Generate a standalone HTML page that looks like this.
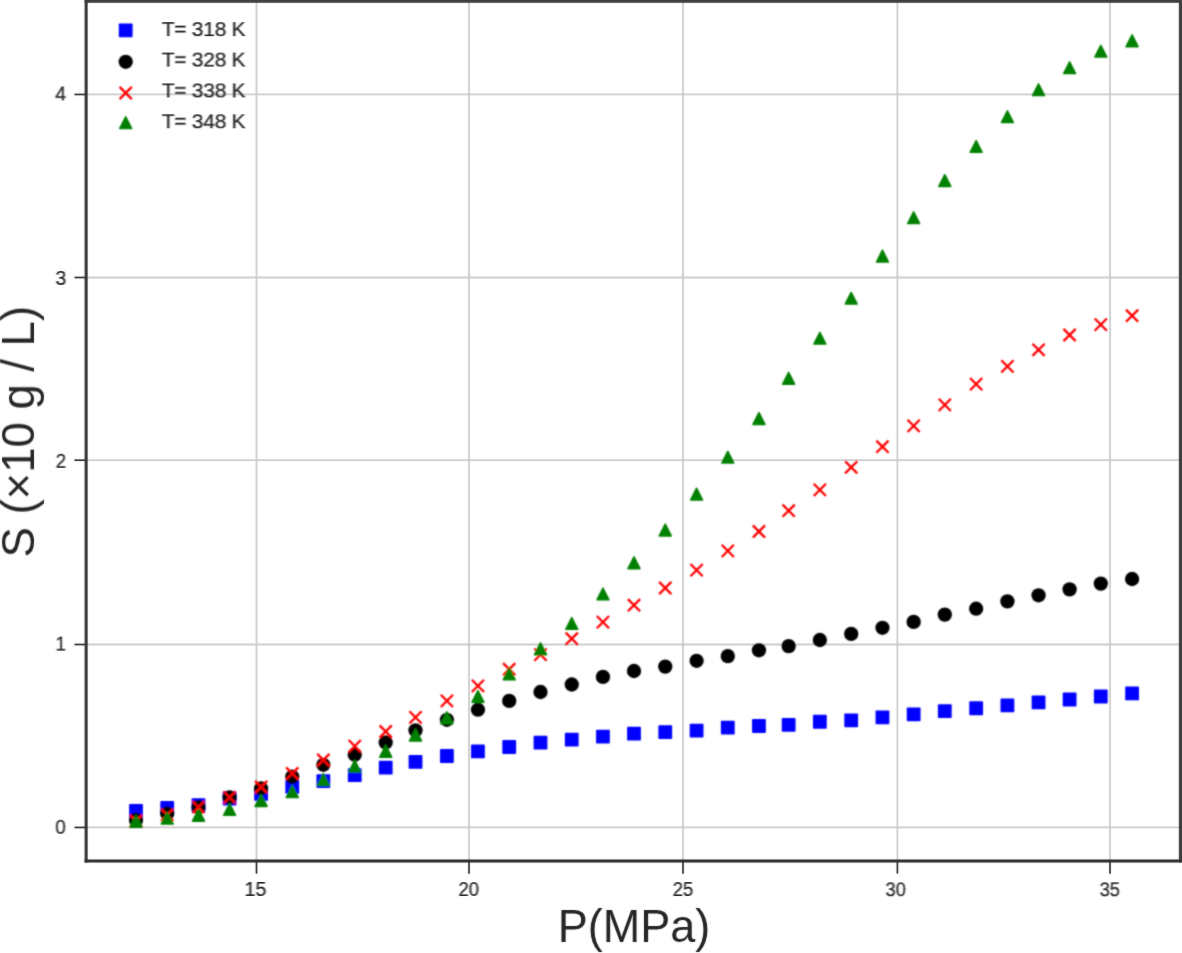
<!DOCTYPE html>
<html><head><meta charset="utf-8"><style>
html,body{margin:0;padding:0;background:#fff;width:1182px;height:953px;overflow:hidden}
svg{display:block}
</style></head><body>
<svg width="1182" height="953" viewBox="0 0 1182 953">
<defs><filter id="bg" x="-20" y="-20" width="1222" height="993" filterUnits="userSpaceOnUse"><feConvolveMatrix order="5" kernelMatrix="0.00000 0.00000 0.00004 0.00000 0.00000 0.00000 0.00524 0.06191 0.00524 0.00000 0.00004 0.06191 0.73124 0.06191 0.00004 0.00000 0.00524 0.06191 0.00524 0.00000 0.00000 0.00000 0.00004 0.00000 0.00000" edgeMode="none"/></filter><filter id="bm" x="-20" y="-20" width="1222" height="993" filterUnits="userSpaceOnUse"><feConvolveMatrix order="5" kernelMatrix="0.00009 0.00198 0.00548 0.00198 0.00009 0.00198 0.04220 0.11707 0.04220 0.00198 0.00548 0.11707 0.32480 0.11707 0.00548 0.00198 0.04220 0.11707 0.04220 0.00198 0.00009 0.00198 0.00548 0.00198 0.00009" edgeMode="none"/></filter><filter id="bs" x="-20" y="-20" width="1222" height="993" filterUnits="userSpaceOnUse"><feConvolveMatrix order="5" kernelMatrix="0.00000 0.00000 0.00000 0.00000 0.00000 0.00036 0.00373 0.00815 0.00373 0.00036 0.02121 0.22105 0.48282 0.22105 0.02121 0.00036 0.00373 0.00815 0.00373 0.00036 0.00000 0.00000 0.00000 0.00000 0.00000" edgeMode="none"/></filter><filter id="bt" x="-20" y="-20" width="1222" height="993" filterUnits="userSpaceOnUse"><feConvolveMatrix order="5" kernelMatrix="0.00000 0.00003 0.00021 0.00003 0.00000 0.00003 0.01133 0.08373 0.01133 0.00003 0.00021 0.08373 0.61869 0.08373 0.00021 0.00003 0.01133 0.08373 0.01133 0.00003 0.00000 0.00003 0.00021 0.00003 0.00000" edgeMode="none"/></filter></defs>
<defs><filter id="s0" x="237.2" y="873.7" width="36.9" height="30.6" filterUnits="userSpaceOnUse"><feConvolveMatrix order="5" kernelMatrix="0.00000 0.00000 0.00000 0.00000 0.00000 0.00075 0.00777 0.01697 0.00777 0.00075 0.02102 0.21898 0.47830 0.21898 0.02102 0.00017 0.00176 0.00384 0.00176 0.00017 0.00000 0.00000 0.00000 0.00000 0.00000" edgeMode="none"/></filter><filter id="s1" x="450.9" y="873.6" width="36.0" height="30.9" filterUnits="userSpaceOnUse"><feConvolveMatrix order="5" kernelMatrix="0.00000 0.00000 0.00000 0.00000 0.00000 0.00016 0.00167 0.00365 0.00167 0.00016 0.02099 0.21869 0.47767 0.21869 0.02099 0.00078 0.00815 0.01780 0.00815 0.00078 0.00000 0.00000 0.00000 0.00000 0.00000" edgeMode="none"/></filter><filter id="s2" x="665.0" y="873.6" width="35.9" height="30.9" filterUnits="userSpaceOnUse"><feConvolveMatrix order="5" kernelMatrix="0.00000 0.00000 0.00000 0.00000 0.00000 0.00011 0.00117 0.00256 0.00117 0.00011 0.02073 0.21600 0.47179 0.21600 0.02073 0.00109 0.01134 0.02477 0.01134 0.00109 0.00000 0.00000 0.00000 0.00000 0.00000" edgeMode="none"/></filter><filter id="s3" x="877.8" y="873.6" width="35.8" height="31.2" filterUnits="userSpaceOnUse"><feConvolveMatrix order="5" kernelMatrix="0.00000 0.00000 0.00000 0.00000 0.00000 0.00001 0.00011 0.00025 0.00011 0.00001 0.01557 0.16228 0.35445 0.16228 0.01557 0.00634 0.06611 0.14440 0.06611 0.00634 0.00000 0.00001 0.00002 0.00001 0.00000" edgeMode="none"/></filter><filter id="s4" x="1091.9" y="873.6" width="35.8" height="31.2" filterUnits="userSpaceOnUse"><feConvolveMatrix order="5" kernelMatrix="0.00000 0.00000 0.00000 0.00000 0.00000 0.00001 0.00009 0.00019 0.00009 0.00001 0.01462 0.15231 0.33268 0.15231 0.01462 0.00730 0.07610 0.16622 0.07610 0.00730 0.00000 0.00001 0.00002 0.00001 0.00000" edgeMode="none"/></filter><filter id="s5" x="47.2" y="811.1" width="26.4" height="30.8" filterUnits="userSpaceOnUse"><feConvolveMatrix order="5" kernelMatrix="0.00000 0.00000 0.00000 0.00000 0.00000 0.00373 0.03886 0.08489 0.03886 0.00373 0.01817 0.18938 0.41365 0.18938 0.01817 0.00003 0.00026 0.00057 0.00026 0.00003 0.00000 0.00000 0.00000 0.00000 0.00000" edgeMode="none"/></filter><filter id="s6" x="48.1" y="628.2" width="25.5" height="31.2" filterUnits="userSpaceOnUse"><feConvolveMatrix order="5" kernelMatrix="0.00000 0.00002 0.00004 0.00002 0.00000 0.00858 0.08944 0.19536 0.08944 0.00858 0.01334 0.13899 0.30359 0.13899 0.01334 0.00001 0.00006 0.00013 0.00006 0.00001 0.00000 0.00000 0.00000 0.00000 0.00000" edgeMode="none"/></filter><filter id="s7" x="48.0" y="445.2" width="25.7" height="31.0" filterUnits="userSpaceOnUse"><feConvolveMatrix order="5" kernelMatrix="0.00000 0.00000 0.00000 0.00000 0.00000 0.00356 0.03705 0.08093 0.03705 0.00356 0.01835 0.19118 0.41756 0.19118 0.01835 0.00003 0.00028 0.00061 0.00028 0.00003 0.00000 0.00000 0.00000 0.00000 0.00000" edgeMode="none"/></filter><filter id="s8" x="47.8" y="262.4" width="26.2" height="31.1" filterUnits="userSpaceOnUse"><feConvolveMatrix order="5" kernelMatrix="0.00000 0.00000 0.00000 0.00000 0.00000 0.00083 0.00861 0.01881 0.00861 0.00083 0.02095 0.21832 0.47686 0.21832 0.02095 0.00015 0.00158 0.00344 0.00158 0.00015 0.00000 0.00000 0.00000 0.00000 0.00000" edgeMode="none"/></filter><filter id="s9" x="47.1" y="78.2" width="27.3" height="30.7" filterUnits="userSpaceOnUse"><feConvolveMatrix order="5" kernelMatrix="0.00000 0.00000 0.00000 0.00000 0.00000 0.00000 0.00004 0.00009 0.00004 0.00000 0.01190 0.12399 0.27082 0.12399 0.01190 0.01002 0.10446 0.22815 0.10446 0.01002 0.00000 0.00003 0.00005 0.00003 0.00000" edgeMode="none"/></filter><filter id="s10" x="150.0" y="12.4" width="110.0" height="35.0" filterUnits="userSpaceOnUse"><feConvolveMatrix order="5" kernelMatrix="0.00000 0.00000 0.00000 0.00000 0.00000 0.00003 0.00032 0.00069 0.00032 0.00003 0.01865 0.19432 0.42444 0.19432 0.01865 0.00325 0.03387 0.07398 0.03387 0.00325 0.00000 0.00000 0.00000 0.00000 0.00000" edgeMode="none"/></filter><filter id="s11" x="150.0" y="41.9" width="110.0" height="35.0" filterUnits="userSpaceOnUse"><feConvolveMatrix order="5" kernelMatrix="0.00000 0.00002 0.00004 0.00002 0.00000 0.00863 0.08989 0.19633 0.08989 0.00863 0.01330 0.13855 0.30261 0.13855 0.01330 0.00001 0.00006 0.00013 0.00006 0.00001 0.00000 0.00000 0.00000 0.00000 0.00000" edgeMode="none"/></filter><filter id="s12" x="150.0" y="73.1" width="110.0" height="35.0" filterUnits="userSpaceOnUse"><feConvolveMatrix order="5" kernelMatrix="0.00000 0.00000 0.00000 0.00000 0.00000 0.00000 0.00005 0.00010 0.00005 0.00000 0.01230 0.12814 0.27988 0.12814 0.01230 0.00963 0.10030 0.21909 0.10030 0.00963 0.00000 0.00002 0.00005 0.00002 0.00000" edgeMode="none"/></filter><filter id="s13" x="150.0" y="104.4" width="110.0" height="35.0" filterUnits="userSpaceOnUse"><feConvolveMatrix order="5" kernelMatrix="0.00000 0.00000 0.00000 0.00000 0.00000 0.00001 0.00011 0.00024 0.00011 0.00001 0.01543 0.16074 0.35108 0.16074 0.01543 0.00649 0.06766 0.14778 0.06766 0.00649 0.00000 0.00001 0.00002 0.00001 0.00000" edgeMode="none"/></filter></defs>
<rect width="1182" height="953" fill="#fff"/>
<g filter="url(#bg)">
<g stroke="#cccccc" stroke-width="1.8" fill="none">
<line x1="256.5" y1="1.3" x2="256.5" y2="860.95"/>
<line x1="469.0" y1="1.3" x2="469.0" y2="860.95"/>
<line x1="683.0" y1="1.3" x2="683.0" y2="860.95"/>
<line x1="897.4" y1="1.3" x2="897.4" y2="860.95"/>
<line x1="1110.0" y1="1.3" x2="1110.0" y2="860.95"/>
<line x1="86.15" y1="827.45" x2="1180.5" y2="827.45"/>
<line x1="86.15" y1="644.5" x2="1180.5" y2="644.5"/>
<line x1="86.15" y1="460.2" x2="1180.5" y2="460.2"/>
<line x1="86.15" y1="277.5" x2="1180.5" y2="277.5"/>
<line x1="86.15" y1="94.45" x2="1180.5" y2="94.45"/>
</g>
</g><g filter="url(#bm)">
<g fill="#0000ff"><rect x="129.10" y="803.90" width="13.8" height="13.8" rx="0.9"/><rect x="160.30" y="801.00" width="13.8" height="13.8" rx="0.9"/><rect x="191.60" y="798.20" width="13.8" height="13.8" rx="0.9"/><rect x="222.70" y="791.60" width="13.8" height="13.8" rx="0.9"/><rect x="254.20" y="787.00" width="13.8" height="13.8" rx="0.9"/><rect x="285.35" y="780.00" width="13.8" height="13.8" rx="0.9"/><rect x="316.45" y="774.20" width="13.8" height="13.8" rx="0.9"/><rect x="347.85" y="768.30" width="13.8" height="13.8" rx="0.9"/><rect x="378.80" y="760.80" width="13.8" height="13.8" rx="0.9"/><rect x="408.60" y="755.00" width="13.8" height="13.8" rx="0.9"/><rect x="440.00" y="749.10" width="13.8" height="13.8" rx="0.9"/><rect x="471.05" y="744.55" width="13.8" height="13.8" rx="0.9"/><rect x="502.30" y="740.10" width="13.8" height="13.8" rx="0.9"/><rect x="533.60" y="735.80" width="13.8" height="13.8" rx="0.9"/><rect x="564.85" y="732.70" width="13.8" height="13.8" rx="0.9"/><rect x="596.05" y="729.70" width="13.8" height="13.8" rx="0.9"/><rect x="627.10" y="726.75" width="13.8" height="13.8" rx="0.9"/><rect x="658.35" y="725.20" width="13.8" height="13.8" rx="0.9"/><rect x="689.70" y="723.70" width="13.8" height="13.8" rx="0.9"/><rect x="720.90" y="720.70" width="13.8" height="13.8" rx="0.9"/><rect x="752.05" y="719.10" width="13.8" height="13.8" rx="0.9"/><rect x="781.75" y="717.90" width="13.8" height="13.8" rx="0.9"/><rect x="812.95" y="714.85" width="13.8" height="13.8" rx="0.9"/><rect x="844.30" y="713.45" width="13.8" height="13.8" rx="0.9"/><rect x="875.55" y="710.40" width="13.8" height="13.8" rx="0.9"/><rect x="906.75" y="707.40" width="13.8" height="13.8" rx="0.9"/><rect x="937.90" y="704.30" width="13.8" height="13.8" rx="0.9"/><rect x="969.25" y="701.35" width="13.8" height="13.8" rx="0.9"/><rect x="1000.50" y="698.50" width="13.8" height="13.8" rx="0.9"/><rect x="1031.65" y="695.50" width="13.8" height="13.8" rx="0.9"/><rect x="1062.70" y="692.60" width="13.8" height="13.8" rx="0.9"/><rect x="1093.90" y="689.60" width="13.8" height="13.8" rx="0.9"/><rect x="1125.20" y="686.50" width="13.8" height="13.8" rx="0.9"/></g>
<g fill="#000000"><circle cx="136.00" cy="820.00" r="7.15"/><circle cx="167.20" cy="813.60" r="7.15"/><circle cx="198.50" cy="807.10" r="7.15"/><circle cx="229.60" cy="797.40" r="7.15"/><circle cx="261.10" cy="788.50" r="7.15"/><circle cx="292.25" cy="776.70" r="7.15"/><circle cx="323.35" cy="764.80" r="7.15"/><circle cx="354.75" cy="754.80" r="7.15"/><circle cx="385.70" cy="742.50" r="7.15"/><circle cx="415.50" cy="730.30" r="7.15"/><circle cx="446.90" cy="719.80" r="7.15"/><circle cx="477.95" cy="709.70" r="7.15"/><circle cx="509.20" cy="700.90" r="7.15"/><circle cx="540.50" cy="692.00" r="7.15"/><circle cx="571.75" cy="684.50" r="7.15"/><circle cx="602.95" cy="676.90" r="7.15"/><circle cx="634.00" cy="671.00" r="7.15"/><circle cx="665.25" cy="666.60" r="7.15"/><circle cx="696.60" cy="660.80" r="7.15"/><circle cx="727.80" cy="656.10" r="7.15"/><circle cx="758.95" cy="650.30" r="7.15"/><circle cx="788.65" cy="646.10" r="7.15"/><circle cx="819.85" cy="640.00" r="7.15"/><circle cx="851.20" cy="633.90" r="7.15"/><circle cx="882.45" cy="627.80" r="7.15"/><circle cx="913.65" cy="621.90" r="7.15"/><circle cx="944.80" cy="614.60" r="7.15"/><circle cx="976.15" cy="608.70" r="7.15"/><circle cx="1007.40" cy="601.40" r="7.15"/><circle cx="1038.55" cy="595.30" r="7.15"/><circle cx="1069.60" cy="589.40" r="7.15"/><circle cx="1100.80" cy="583.60" r="7.15"/><circle cx="1132.10" cy="579.00" r="7.15"/></g>
<g stroke="#ff0000" stroke-width="2.3" fill="none"><path d="M129.90 814.90L142.10 827.10M129.90 827.10L142.10 814.90"/><path d="M161.10 808.80L173.30 821.00M161.10 821.00L173.30 808.80"/><path d="M192.40 801.00L204.60 813.20M192.40 813.20L204.60 801.00"/><path d="M223.50 791.30L235.70 803.50M223.50 803.50L235.70 791.30"/><path d="M255.00 780.90L267.20 793.10M255.00 793.10L267.20 780.90"/><path d="M286.15 767.40L298.35 779.60M286.15 779.60L298.35 767.40"/><path d="M317.25 753.90L329.45 766.10M317.25 766.10L329.45 753.90"/><path d="M348.65 740.00L360.85 752.20M348.65 752.20L360.85 740.00"/><path d="M379.60 725.40L391.80 737.60M379.60 737.60L391.80 725.40"/><path d="M409.40 711.30L421.60 723.50M409.40 723.50L421.60 711.30"/><path d="M440.80 694.80L453.00 707.00M440.80 707.00L453.00 694.80"/><path d="M471.85 679.80L484.05 692.00M471.85 692.00L484.05 679.80"/><path d="M503.10 663.10L515.30 675.30M503.10 675.30L515.30 663.10"/><path d="M534.40 648.50L546.60 660.70M534.40 660.70L546.60 648.50"/><path d="M565.65 632.60L577.85 644.80M565.65 644.80L577.85 632.60"/><path d="M596.85 616.00L609.05 628.20M596.85 628.20L609.05 616.00"/><path d="M627.90 599.10L640.10 611.30M627.90 611.30L640.10 599.10"/><path d="M659.15 581.90L671.35 594.10M659.15 594.10L671.35 581.90"/><path d="M690.50 564.00L702.70 576.20M690.50 576.20L702.70 564.00"/><path d="M721.70 544.80L733.90 557.00M721.70 557.00L733.90 544.80"/><path d="M752.85 525.40L765.05 537.60M752.85 537.60L765.05 525.40"/><path d="M782.55 504.60L794.75 516.80M782.55 516.80L794.75 504.60"/><path d="M813.75 483.80L825.95 496.00M813.75 496.00L825.95 483.80"/><path d="M845.10 461.20L857.30 473.40M845.10 473.40L857.30 461.20"/><path d="M876.35 440.60L888.55 452.80M876.35 452.80L888.55 440.60"/><path d="M907.55 419.80L919.75 432.00M907.55 432.00L919.75 419.80"/><path d="M938.70 398.80L950.90 411.00M938.70 411.00L950.90 398.80"/><path d="M970.05 378.00L982.25 390.20M970.05 390.20L982.25 378.00"/><path d="M1001.30 360.30L1013.50 372.50M1001.30 372.50L1013.50 360.30"/><path d="M1032.45 343.70L1044.65 355.90M1032.45 355.90L1044.65 343.70"/><path d="M1063.50 328.90L1075.70 341.10M1063.50 341.10L1075.70 328.90"/><path d="M1094.70 318.50L1106.90 330.70M1094.70 330.70L1106.90 318.50"/><path d="M1126.00 309.60L1138.20 321.80M1126.00 321.80L1138.20 309.60"/></g>
<g fill="#008000" stroke="#008000" stroke-width="1.5" stroke-linejoin="round"><path d="M136.00 815.40L142.00 827.20L130.00 827.20Z"/><path d="M167.20 812.30L173.20 824.10L161.20 824.10Z"/><path d="M198.50 809.40L204.50 821.20L192.50 821.20Z"/><path d="M229.60 803.50L235.60 815.30L223.60 815.30Z"/><path d="M261.10 794.60L267.10 806.40L255.10 806.40Z"/><path d="M292.25 785.60L298.25 797.40L286.25 797.40Z"/><path d="M323.35 773.70L329.35 785.50L317.35 785.50Z"/><path d="M354.75 760.20L360.75 772.00L348.75 772.00Z"/><path d="M385.70 745.40L391.70 757.20L379.70 757.20Z"/><path d="M415.50 729.10L421.50 740.90L409.50 740.90Z"/><path d="M446.90 711.90L452.90 723.70L440.90 723.70Z"/><path d="M477.95 690.50L483.95 702.30L471.95 702.30Z"/><path d="M509.20 668.00L515.20 679.80L503.20 679.80Z"/><path d="M540.50 642.90L546.50 654.70L534.50 654.70Z"/><path d="M571.75 617.50L577.75 629.30L565.75 629.30Z"/><path d="M602.95 588.00L608.95 599.80L596.95 599.80Z"/><path d="M634.00 556.90L640.00 568.70L628.00 568.70Z"/><path d="M665.25 524.10L671.25 535.90L659.25 535.90Z"/><path d="M696.60 488.20L702.60 500.00L690.60 500.00Z"/><path d="M727.80 451.30L733.80 463.10L721.80 463.10Z"/><path d="M758.95 412.60L764.95 424.40L752.95 424.40Z"/><path d="M788.65 372.40L794.65 384.20L782.65 384.20Z"/><path d="M819.85 332.30L825.85 344.10L813.85 344.10Z"/><path d="M851.20 292.30L857.20 304.10L845.20 304.10Z"/><path d="M882.45 250.20L888.45 262.00L876.45 262.00Z"/><path d="M913.65 211.80L919.65 223.60L907.65 223.60Z"/><path d="M944.80 174.60L950.80 186.40L938.80 186.40Z"/><path d="M976.15 140.50L982.15 152.30L970.15 152.30Z"/><path d="M1007.40 110.80L1013.40 122.60L1001.40 122.60Z"/><path d="M1038.55 83.80L1044.55 95.60L1032.55 95.60Z"/><path d="M1069.60 61.80L1075.60 73.60L1063.60 73.60Z"/><path d="M1100.80 45.30L1106.80 57.10L1094.80 57.10Z"/><path d="M1132.10 34.90L1138.10 46.70L1126.10 46.70Z"/></g>
</g><g filter="url(#bg)">
<rect x="84.65" y="-10" width="1108.85" height="12.80" fill="#404040"/>
<rect x="1178.85" y="-10" width="16.15" height="872.45" fill="#404040"/>
<line x1="86.15" y1="-10" x2="86.15" y2="862.45" stroke="#383838" stroke-width="3.1"/>
<line x1="84.60000000000001" y1="860.95" x2="1195" y2="860.95" stroke="#2e2e2e" stroke-width="3.0"/>
<g stroke="#2e2e2e" stroke-width="1.7">
<line x1="256.5" y1="860.95" x2="256.5" y2="873.6500000000001"/>
<line x1="469.0" y1="860.95" x2="469.0" y2="873.6500000000001"/>
<line x1="683.0" y1="860.95" x2="683.0" y2="873.6500000000001"/>
<line x1="897.4" y1="860.95" x2="897.4" y2="873.6500000000001"/>
<line x1="1110.0" y1="860.95" x2="1110.0" y2="873.6500000000001"/>
<line x1="86.15" y1="827.45" x2="74.45" y2="827.45"/>
<line x1="86.15" y1="644.5" x2="74.45" y2="644.5"/>
<line x1="86.15" y1="460.2" x2="74.45" y2="460.2"/>
<line x1="86.15" y1="277.5" x2="74.45" y2="277.5"/>
<line x1="86.15" y1="94.45" x2="74.45" y2="94.45"/>
</g>
</g><g filter="url(#bm)">
<g fill="#0000ff"><rect x="118.80" y="23.40" width="13.8" height="13.8" rx="0.9"/></g>
<g fill="#000"><circle cx="125.70" cy="61.80" r="7.15"/></g>
<g stroke="#ff0000" stroke-width="2.3" fill="none"><path d="M119.60 86.90L131.80 99.10M119.60 99.10L131.80 86.90"/></g>
<g fill="#008000" stroke="#008000" stroke-width="1.5" stroke-linejoin="round"><path d="M125.70 116.80L131.70 128.60L119.70 128.60Z"/></g>
</g>
<g font-family="Liberation Sans, sans-serif" fill="#262626" stroke="#262626" stroke-width="0.25">
<g filter="url(#s0)"><text font-size="21" transform="translate(255.42 896) scale(0.9381 0.9470)" text-anchor="middle">15</text></g>
<g filter="url(#s1)"><text font-size="21" transform="translate(468.84 896) scale(0.8811 0.9671)" text-anchor="middle">20</text></g>
<g filter="url(#s2)"><text font-size="21" transform="translate(682.91 896) scale(0.8782 0.9665)" text-anchor="middle">25</text></g>
<g filter="url(#s3)"><text font-size="21" transform="translate(895.72 896) scale(0.8654 0.9995)" text-anchor="middle">30</text></g>
<g filter="url(#s4)"><text font-size="21" transform="translate(1109.83 896) scale(0.8669 0.9981)" text-anchor="middle">35</text></g>
<g filter="url(#s5)"><text font-size="21" transform="translate(65.83 834) scale(0.9059 0.9772)" text-anchor="end">0</text></g>
<g filter="url(#s6)"><text font-size="21" transform="translate(65.90 651) scale(0.8988 0.9893)" text-anchor="end">1</text></g>
<g filter="url(#s7)"><text font-size="21" transform="translate(66.00 468) scale(0.8867 0.9736)" text-anchor="end">2</text></g>
<g filter="url(#s8)"><text font-size="21" transform="translate(66.30 285) scale(0.9209 0.9929)" text-anchor="end">3</text></g>
<g filter="url(#s9)"><text font-size="21" transform="translate(66.20 100) scale(0.9285 0.9686)" text-anchor="end">4</text></g>
<g filter="url(#s10)"><text font-size="21" transform="translate(161.80 36) scale(1.0000 0.9800)" text-anchor="start" letter-spacing="-0.28">T= 318 K</text></g>
<g filter="url(#s11)"><text font-size="21" transform="translate(161.80 67) scale(1.0000 0.9800)" text-anchor="start" letter-spacing="-0.28">T= 328 K</text></g>
<g filter="url(#s12)"><text font-size="21" transform="translate(161.80 97) scale(1.0000 0.9800)" text-anchor="start" letter-spacing="-0.28">T= 338 K</text></g>
<g filter="url(#s13)"><text font-size="21" transform="translate(161.80 128) scale(1.0000 0.9800)" text-anchor="start" letter-spacing="-0.28">T= 348 K</text></g>
</g>
<g font-family="Liberation Sans, sans-serif" fill="#262626">
<g filter="url(#bt)">
<text font-size="45.0" transform="translate(633.9 942.45) scale(1 1.04)" text-anchor="middle">P(MPa)</text>
<text font-size="45.5" transform="translate(34.0 431.7) rotate(-90)" text-anchor="middle">S (×10 g / L)</text>
</g></g>
</svg>
</body></html>
